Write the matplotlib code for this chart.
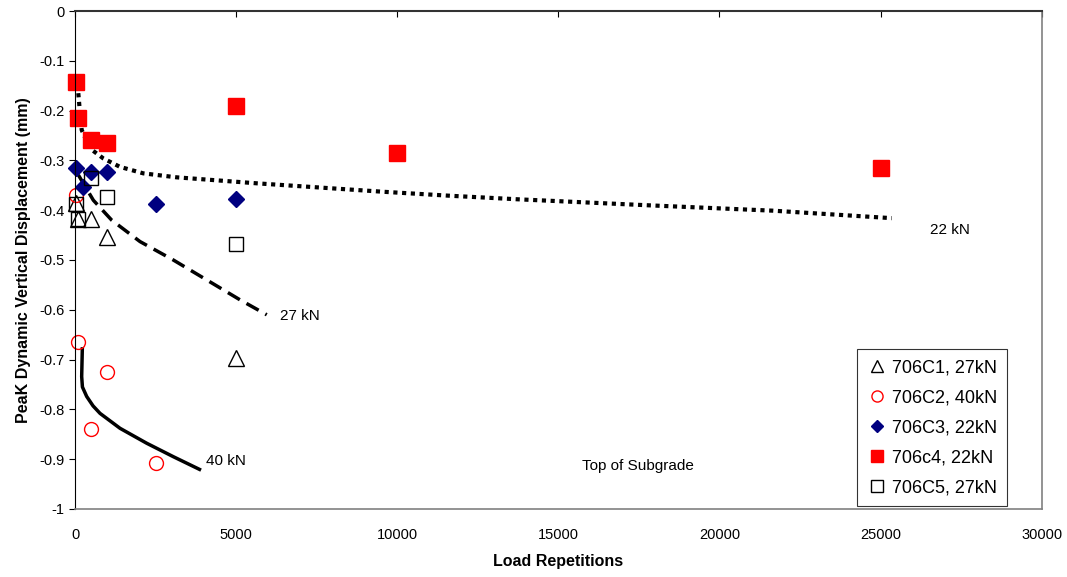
import matplotlib.pyplot as plt
import numpy as np

plt.rcParams['font.family'] = ['Liberation Sans', 'DejaVu Sans']

# measured peak displacements (mm) vs load repetitions
c1_n = [20, 100, 500, 1000, 5000]
c1_d = [-0.385, -0.418, -0.417, -0.454, -0.696]       # 706C1, 27kN

c2_n = [20, 100, 1000, 500, 2500]
c2_d = [-0.370, -0.665, -0.724, -0.840, -0.908]       # 706C2, 40kN

c3_n = [20, 250, 500, 1000, 2500, 5000]
c3_d = [-0.315, -0.353, -0.323, -0.323, -0.388, -0.377]   # 706C3, 22kN

c4_n = [20, 100, 500, 1000, 5000, 10000, 25000]
c4_d = [-0.143, -0.214, -0.260, -0.266, -0.191, -0.286, -0.316]  # 706c4, 22kN

c5_n = [20, 100, 500, 1000, 5000]
c5_d = [-0.387, -0.417, -0.335, -0.374, -0.467]       # 706C5, 27kN

# trend lines
t22_n = [102, 155, 208, 466, 878, 1397, 2120, 3156, 4190, 5640,
         9570, 11640, 13710, 17740, 21670, 25350]
t22_d = [-0.165, -0.205, -0.239, -0.276, -0.296, -0.313, -0.326, -0.334,
         -0.339, -0.346, -0.363, -0.371, -0.378, -0.390, -0.401, -0.416]

t27_n = [102, 569, 1139, 2017, 3051, 4087, 5121, 5950]
t27_d = [-0.329, -0.380, -0.420, -0.463, -0.500, -0.540, -0.580, -0.610]

t40_n = [228, 207, 230, 362, 560, 776, 1397, 2225, 3051, 3911]
t40_d = [-0.675, -0.734, -0.755, -0.774, -0.793, -0.808, -0.838, -0.868, -0.895, -0.922]

fig = plt.figure(figsize=(10.67, 5.77), dpi=100)
ax = fig.add_axes([0.0703, 0.1179, 0.9060, 0.8630])

ax.plot(t22_n, t22_d, color='black', lw=3, ls=(0, (1, 1.1)))
ax.plot(t27_n, t27_d, color='black', lw=2.5, ls=(0, (4, 2.2)))
ax.plot(t40_n, t40_d, color='black', lw=2.5, solid_capstyle='butt')

ax.plot(c1_n, c1_d, ls='none', marker='^', ms=11, mfc='white', mec='black', mew=1,
        label='706C1, 27kN', clip_on=False)
ax.plot(c2_n, c2_d, ls='none', marker='o', ms=10, mfc='none', mec='red', mew=1,
        label='706C2, 40kN', clip_on=False)
ax.plot(c3_n, c3_d, ls='none', marker='D', ms=8, mfc='#000080', mec='#000080',
        label='706C3, 22kN', clip_on=False)
ax.plot(c4_n, c4_d, ls='none', marker='s', ms=11, mfc='red', mec='red',
        label='706c4, 22kN', clip_on=False)
ax.plot(c5_n, c5_d, ls='none', marker='s', ms=10, mfc='none', mec='black', mew=1,
        label='706C5, 27kN', clip_on=False)

ax.text(6983, -0.613, '27 kN', fontsize=11, ha='center', va='center')
ax.text(4677, -0.904, '40 kN', fontsize=11, ha='center', va='center')
ax.text(27157, -0.440, '22 kN', fontsize=11, ha='center', va='center')
ax.text(17473, -0.914, 'Top of Subgrade', fontsize=11, ha='center', va='center')

ax.set_xlim(0, 30000)
ax.set_ylim(-1, 0)
ax.set_xticks(np.arange(0, 30001, 5000))
ax.set_yticks(np.round(np.arange(-1, 0.01, 0.1), 1))
ax.set_yticklabels(['-1', '-0.9', '-0.8', '-0.7', '-0.6', '-0.5',
                    '-0.4', '-0.3', '-0.2', '-0.1', '0'])

ax.tick_params(axis='x', top=True, bottom=False, labeltop=False, labelbottom=True,
               direction='in', length=4, labelsize=10.5, pad=14)
ax.tick_params(axis='y', direction='out', length=4, labelsize=10.5)

for side in ('bottom', 'right'):
    ax.spines[side].set_color('#808080')
    ax.spines[side].set_linewidth(1.2)
ax.spines['top'].set_color('#333333')
ax.spines['top'].set_linewidth(1.5)
ax.spines['left'].set_color('black')

ax.set_xlabel('Load Repetitions', fontsize=11.5, fontweight='bold', labelpad=8)
ax.set_ylabel('PeaK Dynamic Vertical Displacement (mm)', fontsize=11.5,
              fontweight='bold', labelpad=6)

leg = ax.legend(loc='lower right', bbox_to_anchor=(0.964, 0.006), borderaxespad=0,
                fontsize=13, frameon=True, fancybox=False, edgecolor='black',
                borderpad=0.55, labelspacing=0.72, handlelength=1.2,
                handletextpad=0.2, markerscale=0.8)
leg.get_frame().set_linewidth(0.8)

fig.savefig('out.png', dpi=100)
